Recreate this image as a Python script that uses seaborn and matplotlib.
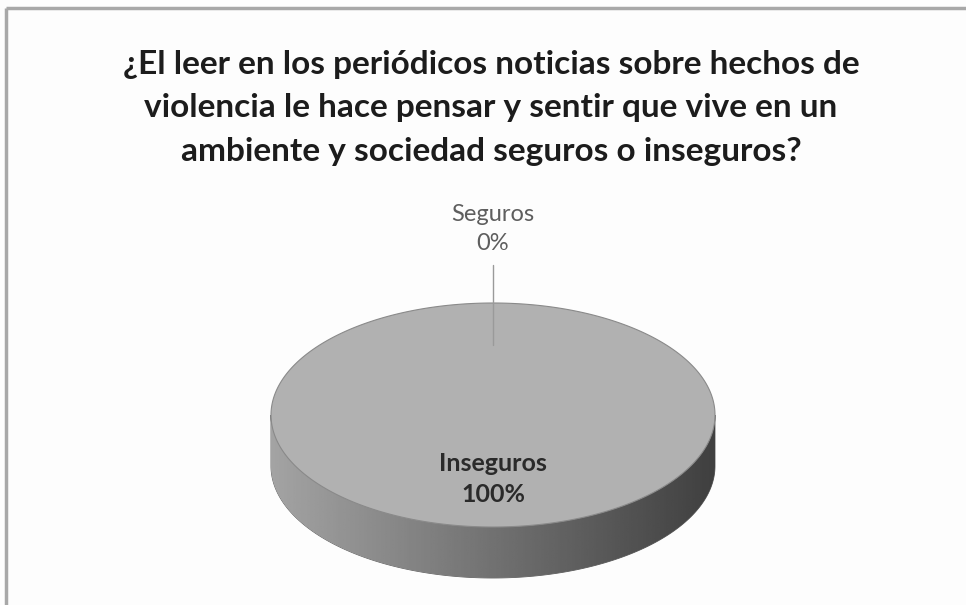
import numpy as np
import matplotlib
matplotlib.use("Agg")
import matplotlib.pyplot as plt
import seaborn as sns
from matplotlib.patches import Polygon

# datos
categorias = ["Seguros", "Inseguros"]
valores = [0, 100]
titulo = ("¿El leer en los periódicos noticias sobre hechos de\n"
          "violencia le hace pensar y sentir que vive en un\n"
          "ambiente y sociedad seguros o inseguros?")

sns.set_theme(style="white")
plt.rcParams['font.family'] = ['Lato', 'DejaVu Sans']

W, H = 966, 605
fig = plt.figure(figsize=(W / 100, H / 100), dpi=100, facecolor="#fdfdfd")
ax = fig.add_axes([0, 0, 1, 1])
ax.set_xlim(0, W)
ax.set_ylim(H, 0)
ax.axis("off")
ax.set_facecolor("#fdfdfd")

# marco del grafico (solo borde superior e izquierdo visibles)
ax.plot([6, W], [8, 8], color="#a8a8a8", lw=2.5, solid_capstyle="butt")
ax.plot([6, 6], [8, H], color="#a8a8a8", lw=2.5, solid_capstyle="butt")

ax.text(W / 2 + 8, 108, titulo, ha="center", va="center", fontsize=24,
        fontweight="bold", color="#1c1c1c", linespacing=1.62)

# pastel 3D
cx, cy, a, b, depth = 493, 415, 222, 112, 51
total = sum(valores)
fracs = [v / total for v in valores]

# lado (gradiente horizontal recortado a la banda)
t = np.linspace(0, np.pi, 200)
top_arc = np.column_stack([cx + a * np.cos(t), cy + b * np.sin(t)])
bot_arc = np.column_stack([cx + a * np.cos(t[::-1]), cy + depth + b * np.sin(t[::-1])])
side = Polygon(np.vstack([top_arc, bot_arc]), closed=True, facecolor="none",
               edgecolor="#5a5a5a", lw=0.6)
ax.add_patch(side)
grad = np.linspace(0.64, 0.25, 256)[None, :]
im = ax.imshow(grad, cmap="gray", vmin=0, vmax=1, aspect="auto",
               extent=[cx - a, cx + a, cy + depth + b, cy - 5], zorder=1)
im.set_clip_path(side)

# cara superior, cuñas desde las 12 en sentido horario
start = 90.0
for nombre, f in zip(categorias, fracs):
    if f <= 0:
        continue
    th = np.deg2rad(np.linspace(start, start - 360 * f, 400))
    pts = np.column_stack([cx + a * np.cos(th), cy - b * np.sin(th)])
    if f < 1:
        pts = np.vstack([[cx, cy], pts])
    ax.add_patch(Polygon(pts, closed=True, facecolor="#b1b1b1",
                         edgecolor="#8a8a8a", lw=0.8, zorder=2))
    start -= 360 * f

# etiquetas
pct = [f"{int(round(f * 100))}%" for f in fracs]
ax.plot([cx, cx], [265, 345], color="#9a9a9a", lw=1, zorder=3)
ax.text(cx, 229, f"{categorias[0]}\n{pct[0]}", ha="center", va="center",
        fontsize=17, color="#5e5e5e", linespacing=1.5, zorder=4)
ax.text(cx, 479, f"{categorias[1]}\n{pct[1]}", ha="center", va="center",
        fontsize=18, fontweight="bold", color="#2a2a2a", linespacing=1.42, zorder=4)

fig.savefig("out.png", dpi=100, facecolor=fig.get_facecolor())
